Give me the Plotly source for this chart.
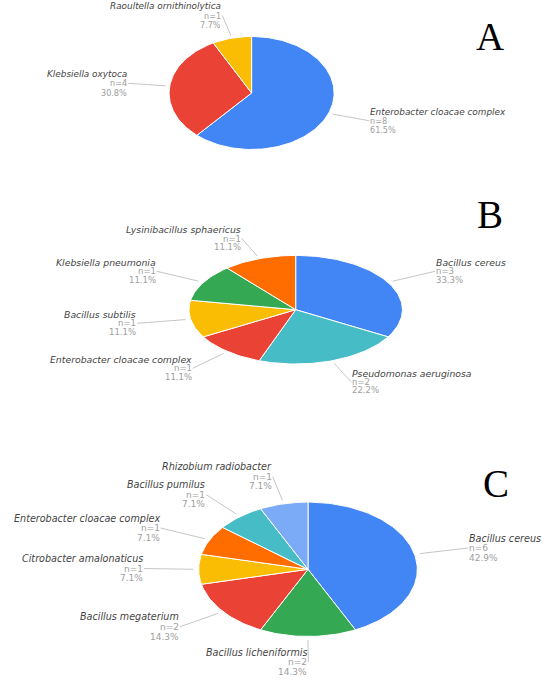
import numpy as np
import plotly.graph_objects as go

# --- data (A, B, C) ---
a_names = ["Enterobacter cloacae complex", "Klebsiella oxytoca", "Raoultella ornithinolytica"]
a_counts = [8, 4, 1]
a_colors = ["#4285F4", "#EA4335", "#FBBC04"]

b_names = ["Bacillus cereus", "Pseudomonas aeruginosa", "Enterobacter cloacae complex",
           "Bacillus subtilis", "Klebsiella pneumonia", "Lysinibacillus sphaericus"]
b_counts = [3, 2, 1, 1, 1, 1]
b_colors = ["#4285F4", "#46BDC6", "#EA4335", "#FBBC04", "#34A853", "#FF6D01"]

c_names = ["Bacillus cereus", "Bacillus licheniformis", "Bacillus megaterium",
           "Citrobacter amalonaticus", "Enterobacter cloacae complex", "Bacillus pumilus",
           "Rhizobium radiobacter"]
c_counts = [6, 2, 2, 1, 1, 1, 1]
c_colors = ["#4285F4", "#34A853", "#EA4335", "#FBBC04", "#FF6D01", "#46BDC6", "#7BAAF7"]

# --- layout of each panel (pixel space of the 550x680 page) ---
panel_a = dict(letter="A", letter_pos=(490, 36.5), center=(251.6, 93), radii=(82.5, 56.5),
               step=9.2, name_size=8.9, num_size=8.1,
               labels=[(369, 120.7, "r"), (128.3, 83.3, "l"), (222.3, 15.5, "l")])
panel_b = dict(letter="B", letter_pos=(490, 214), center=(295.7, 309.7), radii=(106.7, 54.3),
               step=8.6, name_size=9.3, num_size=8.5,
               labels=[(435, 271.3, "r"), (351, 381.7, "r"), (192.7, 368.3, "l"),
                       (137.3, 323.3, "l"), (156.7, 271.3, "l"), (241.7, 238.5, "l")])
panel_c = dict(letter="C", letter_pos=(496, 483.5), center=(308, 569.3), radii=(109.3, 67.2),
               step=9.9, name_size=9.6, num_size=9.0,
               labels=[(468.3, 548, "r"), (308.3, 662, "l"), (180, 626.7, "l"),
                       (144, 568.5, "l"), (160.7, 528, "l"), (206, 494.5, "l"),
                       (272.7, 476.5, "l")])

fig = go.Figure()
shapes = []
annotations = []


def add_pie(names, counts, colors, p):
    cx, cy = p["center"]
    rx, ry = p["radii"]
    total = sum(counts)
    edges = np.concatenate([[0], np.cumsum(counts)]) / total * 2 * np.pi
    for i, (name, cnt, col) in enumerate(zip(names, counts, colors)):
        t0, t1 = edges[i], edges[i + 1]
        t = np.linspace(t0, t1, max(4, int(240 * (t1 - t0) / (2 * np.pi))))
        xs = np.concatenate([[cx], cx + rx * np.sin(t), [cx]])
        ys = np.concatenate([[cy], cy - ry * np.cos(t), [cy]])
        fig.add_trace(go.Scatter(x=xs, y=ys, mode="lines", fill="toself", fillcolor=col,
                                 line=dict(color="white", width=1),
                                 hoverinfo="skip", showlegend=False))

        # leader line from the slice middle to the label
        tm = (t0 + t1) / 2
        sx = cx + 1.05 * rx * np.sin(tm)
        sy = cy - 1.05 * ry * np.cos(tm)
        lx, ly, side = p["labels"][i]
        shapes.append(dict(type="line", xref="x", yref="y", x0=sx, y0=sy, x1=lx, y1=ly,
                           line=dict(color="#c6c6c6", width=1)))

        anchor = "left" if side == "r" else "right"
        pct = f"{100 * cnt / total:.1f}%"
        rows = [
            (name, ly - p["step"], dict(family="DejaVu Sans", size=p["name_size"],
                                        color="#444444", style="italic")),
            (f"n={cnt}", ly, dict(family="DejaVu Sans", size=p["num_size"], color="#9e9e9e")),
            (pct, ly + p["step"], dict(family="DejaVu Sans", size=p["num_size"], color="#9e9e9e")),
        ]
        for txt, yy, fnt in rows:
            annotations.append(dict(x=lx, y=yy, xref="x", yref="y", text=txt, showarrow=False,
                                    xanchor=anchor, yanchor="middle", borderpad=0, font=fnt))

    annotations.append(dict(x=p["letter_pos"][0], y=p["letter_pos"][1], xref="x", yref="y",
                            text=p["letter"], showarrow=False, xanchor="center", yanchor="middle",
                            font=dict(family="Liberation Serif", size=39, color="black")))


add_pie(a_names, a_counts, a_colors, panel_a)
add_pie(b_names, b_counts, b_colors, panel_b)
add_pie(c_names, c_counts, c_colors, panel_c)

fig.update_layout(
    width=550, height=680,
    margin=dict(l=0, r=0, t=0, b=0),
    paper_bgcolor="white", plot_bgcolor="white",
    xaxis=dict(range=[0, 550], visible=False, fixedrange=True),
    yaxis=dict(range=[680, 0], visible=False, fixedrange=True),
    shapes=shapes,
    annotations=annotations,
)

# the page body has an 8px default margin; drop it so the figure fills the window
fig.write_html("out.html", config={"displayModeBar": False},
               post_script="document.body.style.margin='0px';")
